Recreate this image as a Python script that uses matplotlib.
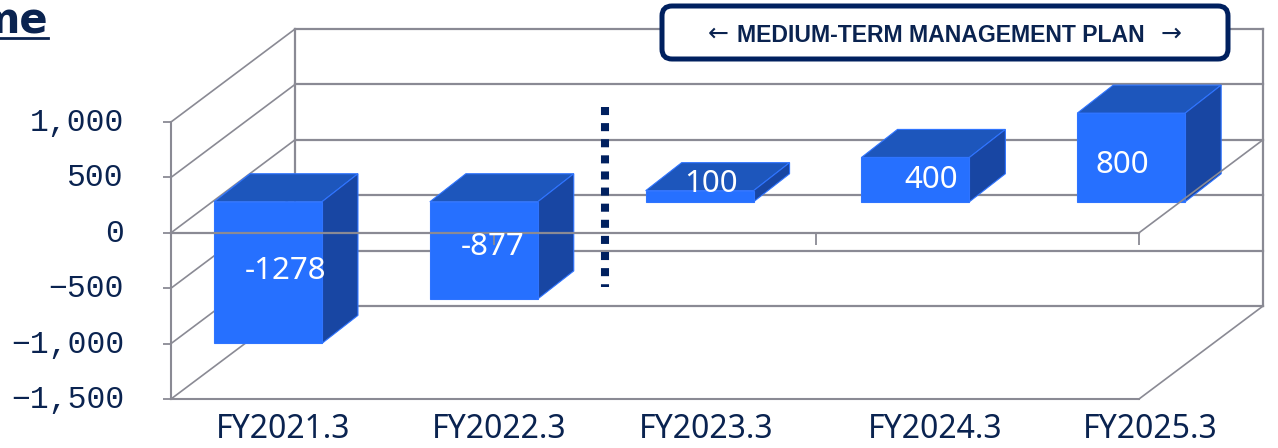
import matplotlib
matplotlib.use("Agg")
import matplotlib.pyplot as plt
from matplotlib.lines import Line2D
from matplotlib.patches import FancyBboxPatch, Polygon
from matplotlib.transforms import Affine2D, ScaledTranslation

# data
categories = ["FY2021.3", "FY2022.3", "FY2023.3", "FY2024.3", "FY2025.3"]
values = [-1278, -877, 100, 400, 800]
y_ticks = [-1500, -1000, -500, 0, 500, 1000]
y_tick_labels = ["−1,500", "−1,000", "−500", "0", "500", "1,000"]

# label placement, in category / value units
cat_label_shift = [0.07, 0.07, 0.03, 0.09, 0.09]
val_label_x = [0.08, 0.04, 0.055, 0.075, -0.04]
val_label_y = [-345, -128, 441, 477, 612]
floor_ticks = [-0.4495, 1.047, 2.54, 4.036]

NAVY = "#0a2350"
BOX = "#00205f"
GREY = "#8a8a94"
FRONT = "#2670ff"
TOP = "#1d56bc"
SIDE = "#1846a3"
EDGE = "#2f74ff"

# oblique projection
WALL_DX, WALL_DY = 0.5746, 839
BAR_DX, BAR_DY = 0.1668, 253
BASE = 280
HALF = 0.25

W, H = 1278, 448
fig = plt.figure(figsize=(W / 100, H / 100), dpi=100)
ax = fig.add_axes([171 / W, (H - 399) / H, (1139 - 171) / W, (399 - 122) / H])
ax.set_xlim(-0.4495, 4.036)
ax.set_ylim(-1500, 1000)
ax.patch.set_visible(False)
pix = Affine2D().scale(1 / W, -1 / H).translate(0, 1) + fig.transFigure

for side in ["top", "right"]:
    ax.spines[side].set_visible(False)
for side in ["left", "bottom"]:
    ax.spines[side].set_color(GREY)
    ax.spines[side].set_linewidth(1.5)
    ax.spines[side].set_zorder(1)

ax.set_xticks([])
ax.set_yticks(y_ticks)
ax.set_yticklabels(y_tick_labels, family="Liberation Mono", fontsize=22.6, color=NAVY)
ax.tick_params(axis="y", length=5.8, width=1.3, color=GREY, pad=28)
nudge = ScaledTranslation(0, 2.5 / 100, fig.dpi_scale_trans)
for lab in ax.get_yticklabels():
    lab.set_transform(lab.get_transform() + nudge)

x0, x1 = ax.get_xlim()

# walls
for v in y_ticks:
    ax.plot([x0 + WALL_DX, x1 + WALL_DX], [v + WALL_DY] * 2, color=GREY, lw=1.6, clip_on=False, zorder=1)
    ax.plot([x0, x0 + WALL_DX], [v, v + WALL_DY], color=GREY, lw=1.2, clip_on=False, zorder=1)
for x in [x0 + WALL_DX, x1 + WALL_DX]:
    ax.plot([x, x], [-1500 + WALL_DY, 1000 + WALL_DY], color=GREY, lw=1.6, clip_on=False, zorder=1)
ax.plot([x1, x1 + WALL_DX], [-1500, -1500 + WALL_DY], color=GREY, lw=1.2, clip_on=False, zorder=1)

# bars
for i, val in enumerate(values):
    l, r = i - HALF, i + HALF
    lo, hi = sorted([BASE, BASE + val])
    faces = [
        ([(l, hi), (r, hi), (r + BAR_DX, hi + BAR_DY), (l + BAR_DX, hi + BAR_DY)], TOP),
        ([(r, lo), (r + BAR_DX, lo + BAR_DY), (r + BAR_DX, hi + BAR_DY), (r, hi)], SIDE),
        ([(l, lo), (r, lo), (r, hi), (l, hi)], FRONT),
    ]
    for pts, col in faces:
        ax.add_patch(Polygon(pts, closed=True, facecolor=col, edgecolor=EDGE, lw=0.8, clip_on=False, zorder=3))

# zero floor drawn across the bars
ax.plot([x0, x1], [0, 0], color=GREY, lw=1.6, clip_on=False, zorder=4)
ax.plot([x1, x1 + WALL_DX], [0, WALL_DY], color=GREY, lw=1.2, clip_on=False, zorder=4)
ax.vlines(floor_ticks, -108, 0, color=GREY, lw=1.3, clip_on=False, zorder=4)

for i, name in enumerate(categories):
    ax.text(i + cat_label_shift[i], -1500 - 277, name, ha="center", va="center",
            family="Noto Sans", fontsize=23, color=NAVY, clip_on=False)
for i, val in enumerate(values):
    ax.text(i + val_label_x[i], val_label_y[i], str(val), ha="center", va="center",
            family="Noto Sans", fontsize=22.5, color="white", zorder=5)

# plan divider and box
fig.add_artist(Line2D([605, 605], [107, 287], transform=pix, color=BOX, lw=5.8,
                      linestyle=(0, (1, 1)), dash_capstyle="butt", zorder=6))
fig.add_artist(FancyBboxPatch((668, 12), 554, 41, boxstyle="round,pad=6,rounding_size=10",
                              transform=pix, facecolor="white", edgecolor=BOX, lw=3.6, zorder=7))
fig.text(941, 35, "MEDIUM-TERM MANAGEMENT PLAN", transform=pix, ha="center", va="center",
         family="Liberation Sans", fontweight="bold", fontsize=16.6, color=NAVY, zorder=8)
fig.text(718, 34, "←", transform=pix, ha="center", va="center", family="DejaVu Sans",
         fontsize=18, color=NAVY, zorder=8)
fig.text(1171, 34, "→", transform=pix, ha="center", va="center", family="DejaVu Sans",
         fontsize=18, color=NAVY, zorder=8)

# clipped heading at the top left
fig.text(48, 34, "me", transform=pix, ha="right", va="baseline", family="DejaVu Sans",
         fontweight="bold", fontsize=30, color=NAVY)
fig.add_artist(Line2D([0, 48], [38, 38], transform=pix, color=NAVY, lw=2))

fig.savefig("out.png", dpi=100)
